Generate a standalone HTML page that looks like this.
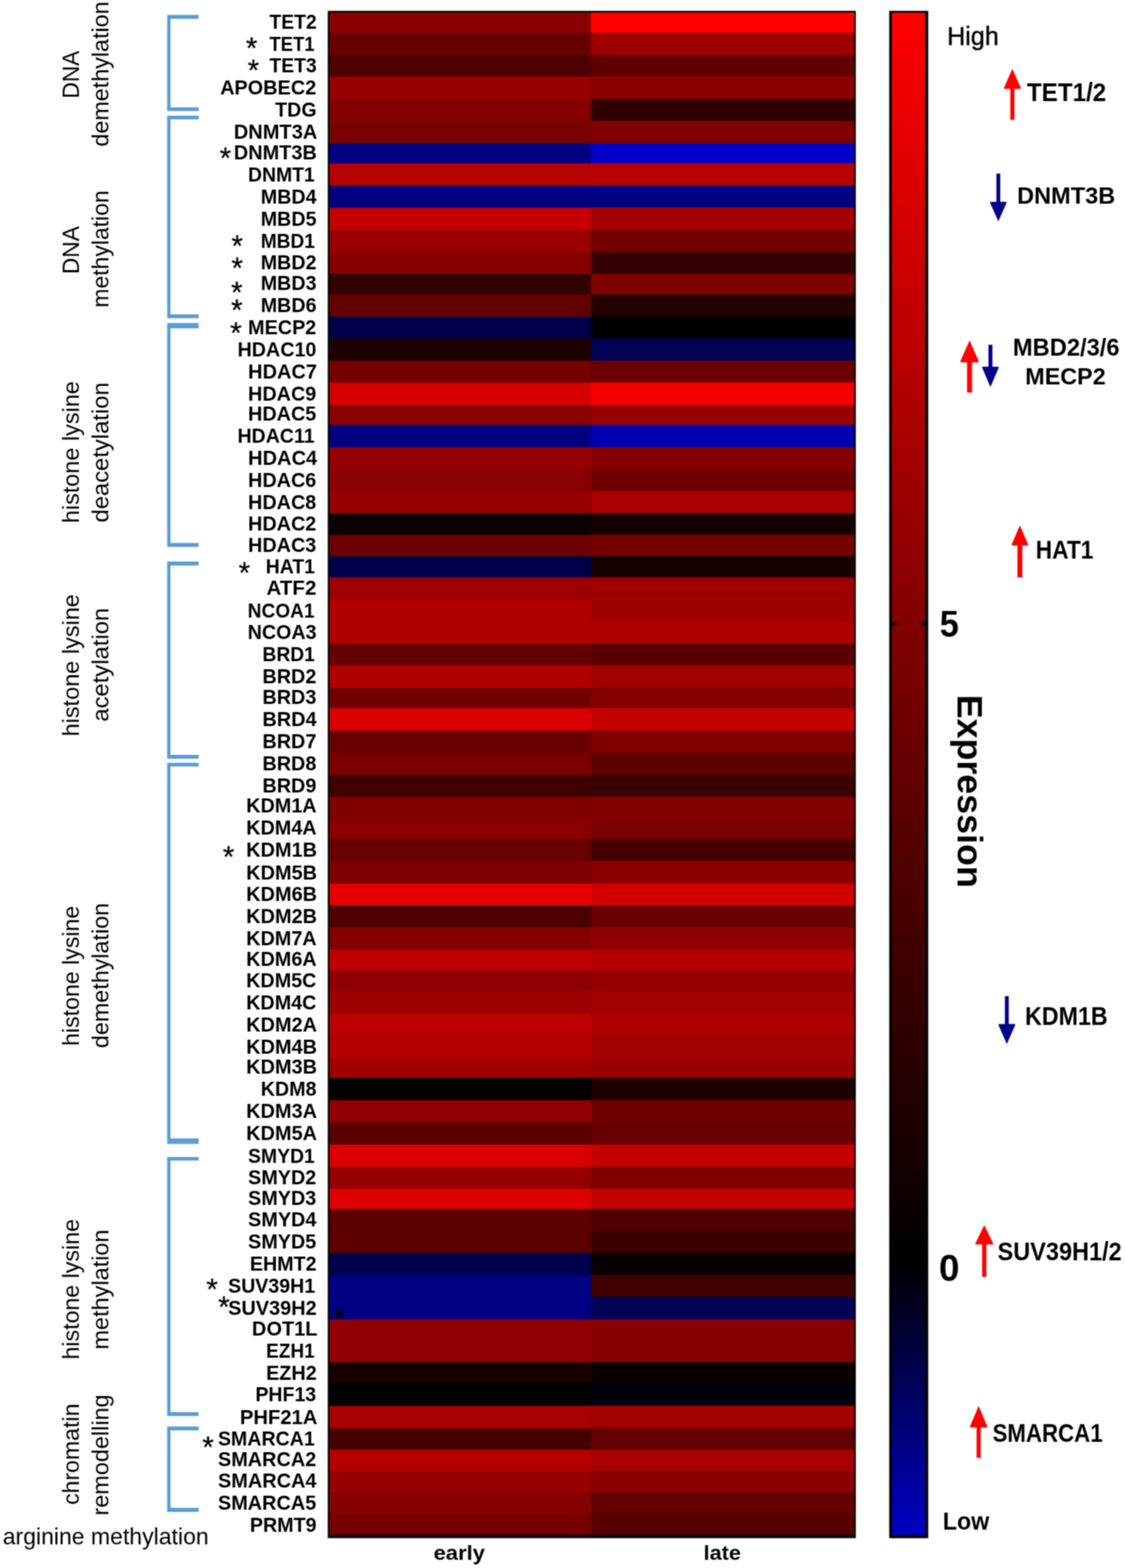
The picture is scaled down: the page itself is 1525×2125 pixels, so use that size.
<!DOCTYPE html>
<html lang="en">
<head>
<meta charset="utf-8">
<title>Epigenetic regulator expression heatmap</title>
<style>
html,body{margin:0;padding:0;background:#fff;}
body{width:1525px;height:2125px;overflow:hidden;position:relative;}
svg{position:absolute;left:0;top:0;display:block;}
text{font-family:"Liberation Sans",Arial,Helvetica,sans-serif;fill:#000;}
.g{font-size:27.4px;font-weight:bold;}
.c{font-size:31px;}
.s{font-size:40px;text-anchor:middle;stroke:#000;stroke-width:0.35px;}
</style>
</head>
<body>
<svg width="1525" height="2125" viewBox="0 0 1525 2125">
<defs>
<linearGradient id="cb" gradientUnits="userSpaceOnUse" x1="0" y1="17" x2="0" y2="2080">
<stop offset="0" stop-color="#ff0000"/>
<stop offset="0.8197" stop-color="#000000"/>
<stop offset="1" stop-color="#0000c4"/>
</linearGradient>
<filter id="soft" filterUnits="userSpaceOnUse" x="0" y="0" width="1525" height="2125" color-interpolation-filters="sRGB">
<feConvolveMatrix order="3" kernelMatrix="1 2 1 2 4 2 1 2 1" divisor="16" edgeMode="duplicate" preserveAlpha="false"/>
</filter>
</defs>
<g id="figure" filter="url(#soft)">
<rect x="0" y="0" width="1525" height="2125" fill="#ffffff"/>
<g id="heatmap">
<rect x="444.3" y="14.7" width="715.8" height="2069.8" fill="#000"/>
<rect x="446.8" y="17.00" width="711.0" height="29.10" fill="#8a0000"/>
<rect x="801.0" y="17.00" width="356.8" height="29.10" fill="#ff0000"/>
<rect x="446.8" y="44.60" width="711.0" height="31.80" fill="#660000"/>
<rect x="801.0" y="44.60" width="356.8" height="31.80" fill="#9c0000"/>
<rect x="446.8" y="74.90" width="711.0" height="30.50" fill="#4d0000"/>
<rect x="801.0" y="74.90" width="356.8" height="30.50" fill="#620000"/>
<rect x="446.8" y="103.90" width="711.0" height="31.80" fill="#990000"/>
<rect x="801.0" y="103.90" width="356.8" height="31.80" fill="#8a0000"/>
<rect x="446.8" y="134.20" width="711.0" height="31.20" fill="#850000"/>
<rect x="801.0" y="134.20" width="356.8" height="31.20" fill="#300000"/>
<rect x="446.8" y="163.90" width="711.0" height="31.80" fill="#7a0000"/>
<rect x="801.0" y="163.90" width="356.8" height="31.80" fill="#800000"/>
<rect x="446.8" y="194.20" width="711.0" height="28.70" fill="#000080"/>
<rect x="801.0" y="194.20" width="356.8" height="28.70" fill="#0000c8"/>
<rect x="446.8" y="221.40" width="711.0" height="31.50" fill="#b80000"/>
<rect x="801.0" y="221.40" width="356.8" height="31.50" fill="#b80000"/>
<rect x="446.8" y="251.40" width="711.0" height="31.50" fill="#000080"/>
<rect x="801.0" y="251.40" width="356.8" height="31.50" fill="#000080"/>
<rect x="446.8" y="281.40" width="711.0" height="31.90" fill="#c40000"/>
<rect x="801.0" y="281.40" width="356.8" height="31.90" fill="#a40000"/>
<rect x="446.8" y="311.80" width="711.0" height="31.40" fill="#990000"/>
<rect x="801.0" y="311.80" width="356.8" height="31.40" fill="#750000"/>
<rect x="446.8" y="341.70" width="711.0" height="30.80" fill="#870000"/>
<rect x="801.0" y="341.70" width="356.8" height="30.80" fill="#330000"/>
<rect x="446.8" y="371.00" width="711.0" height="29.50" fill="#330000"/>
<rect x="801.0" y="371.00" width="356.8" height="29.50" fill="#800000"/>
<rect x="446.8" y="399.00" width="711.0" height="31.50" fill="#620000"/>
<rect x="801.0" y="399.00" width="356.8" height="31.50" fill="#220000"/>
<rect x="446.8" y="429.00" width="711.0" height="31.10" fill="#00004a"/>
<rect x="801.0" y="429.00" width="356.8" height="31.10" fill="#000005"/>
<rect x="446.8" y="458.60" width="711.0" height="31.60" fill="#1f0000"/>
<rect x="801.0" y="458.60" width="356.8" height="31.60" fill="#000055"/>
<rect x="446.8" y="488.70" width="711.0" height="31.40" fill="#750000"/>
<rect x="801.0" y="488.70" width="356.8" height="31.40" fill="#6b0000"/>
<rect x="446.8" y="518.60" width="711.0" height="31.90" fill="#d60000"/>
<rect x="801.0" y="518.60" width="356.8" height="31.90" fill="#f50000"/>
<rect x="446.8" y="549.00" width="711.0" height="28.30" fill="#8a0000"/>
<rect x="801.0" y="549.00" width="356.8" height="28.30" fill="#960000"/>
<rect x="446.8" y="575.80" width="711.0" height="31.80" fill="#000080"/>
<rect x="801.0" y="575.80" width="356.8" height="31.80" fill="#0000b0"/>
<rect x="446.8" y="606.10" width="711.0" height="31.20" fill="#940000"/>
<rect x="801.0" y="606.10" width="356.8" height="31.20" fill="#870000"/>
<rect x="446.8" y="635.80" width="711.0" height="31.10" fill="#8a0000"/>
<rect x="801.0" y="635.80" width="356.8" height="31.10" fill="#700000"/>
<rect x="446.8" y="665.40" width="711.0" height="31.90" fill="#940000"/>
<rect x="801.0" y="665.40" width="356.8" height="31.90" fill="#a80000"/>
<rect x="446.8" y="695.80" width="711.0" height="30.40" fill="#0d0000"/>
<rect x="801.0" y="695.80" width="356.8" height="30.40" fill="#170000"/>
<rect x="446.8" y="724.70" width="711.0" height="30.50" fill="#6b0000"/>
<rect x="801.0" y="724.70" width="356.8" height="30.50" fill="#750000"/>
<rect x="446.8" y="753.70" width="711.0" height="30.40" fill="#00004a"/>
<rect x="801.0" y="753.70" width="356.8" height="30.40" fill="#170000"/>
<rect x="446.8" y="782.60" width="711.0" height="31.10" fill="#9e0000"/>
<rect x="801.0" y="782.60" width="356.8" height="31.10" fill="#9e0000"/>
<rect x="446.8" y="812.20" width="711.0" height="31.90" fill="#b00000"/>
<rect x="801.0" y="812.20" width="356.8" height="31.90" fill="#9e0000"/>
<rect x="446.8" y="842.60" width="711.0" height="31.10" fill="#b00000"/>
<rect x="801.0" y="842.60" width="356.8" height="31.10" fill="#b00000"/>
<rect x="446.8" y="872.20" width="711.0" height="31.10" fill="#660000"/>
<rect x="801.0" y="872.20" width="356.8" height="31.10" fill="#5a0000"/>
<rect x="446.8" y="901.80" width="711.0" height="31.80" fill="#b00000"/>
<rect x="801.0" y="901.80" width="356.8" height="31.80" fill="#a30000"/>
<rect x="446.8" y="932.10" width="711.0" height="29.10" fill="#700000"/>
<rect x="801.0" y="932.10" width="356.8" height="29.10" fill="#850000"/>
<rect x="446.8" y="959.70" width="711.0" height="31.80" fill="#db0000"/>
<rect x="801.0" y="959.70" width="356.8" height="31.80" fill="#c40000"/>
<rect x="446.8" y="990.00" width="711.0" height="31.20" fill="#690000"/>
<rect x="801.0" y="990.00" width="356.8" height="31.20" fill="#800000"/>
<rect x="446.8" y="1019.70" width="711.0" height="31.80" fill="#7a0000"/>
<rect x="801.0" y="1019.70" width="356.8" height="31.80" fill="#5e0000"/>
<rect x="446.8" y="1050.00" width="711.0" height="31.20" fill="#400000"/>
<rect x="801.0" y="1050.00" width="356.8" height="31.20" fill="#380000"/>
<rect x="446.8" y="1079.70" width="711.0" height="31.80" fill="#800000"/>
<rect x="801.0" y="1079.70" width="356.8" height="31.80" fill="#820000"/>
<rect x="446.8" y="1110.00" width="711.0" height="28.30" fill="#8a0000"/>
<rect x="801.0" y="1110.00" width="356.8" height="28.30" fill="#780000"/>
<rect x="446.8" y="1136.80" width="711.0" height="31.50" fill="#690000"/>
<rect x="801.0" y="1136.80" width="356.8" height="31.50" fill="#450000"/>
<rect x="446.8" y="1166.80" width="711.0" height="32.20" fill="#7d0000"/>
<rect x="801.0" y="1166.80" width="356.8" height="32.20" fill="#8a0000"/>
<rect x="446.8" y="1197.50" width="711.0" height="31.00" fill="#e60000"/>
<rect x="801.0" y="1197.50" width="356.8" height="31.00" fill="#d10000"/>
<rect x="446.8" y="1227.00" width="711.0" height="31.30" fill="#4d0000"/>
<rect x="801.0" y="1227.00" width="356.8" height="31.30" fill="#690000"/>
<rect x="446.8" y="1256.80" width="711.0" height="31.70" fill="#850000"/>
<rect x="801.0" y="1256.80" width="356.8" height="31.70" fill="#910000"/>
<rect x="446.8" y="1287.00" width="711.0" height="29.20" fill="#bd0000"/>
<rect x="801.0" y="1287.00" width="356.8" height="29.20" fill="#b50000"/>
<rect x="446.8" y="1314.70" width="711.0" height="30.40" fill="#8f0000"/>
<rect x="801.0" y="1314.70" width="356.8" height="30.40" fill="#960000"/>
<rect x="446.8" y="1343.60" width="711.0" height="31.60" fill="#9e0000"/>
<rect x="801.0" y="1343.60" width="356.8" height="31.60" fill="#a30000"/>
<rect x="446.8" y="1373.70" width="711.0" height="31.70" fill="#ba0000"/>
<rect x="801.0" y="1373.70" width="356.8" height="31.70" fill="#ab0000"/>
<rect x="446.8" y="1403.90" width="711.0" height="31.60" fill="#b50000"/>
<rect x="801.0" y="1403.90" width="356.8" height="31.60" fill="#a30000"/>
<rect x="446.8" y="1434.00" width="711.0" height="28.20" fill="#a00000"/>
<rect x="801.0" y="1434.00" width="356.8" height="28.20" fill="#990000"/>
<rect x="446.8" y="1460.70" width="711.0" height="31.80" fill="#000000"/>
<rect x="801.0" y="1460.70" width="356.8" height="31.80" fill="#1f0000"/>
<rect x="446.8" y="1491.00" width="711.0" height="31.10" fill="#910000"/>
<rect x="801.0" y="1491.00" width="356.8" height="31.10" fill="#700000"/>
<rect x="446.8" y="1520.60" width="711.0" height="31.90" fill="#590000"/>
<rect x="801.0" y="1520.60" width="356.8" height="31.90" fill="#690000"/>
<rect x="446.8" y="1551.00" width="711.0" height="31.90" fill="#d90000"/>
<rect x="801.0" y="1551.00" width="356.8" height="31.90" fill="#c40000"/>
<rect x="446.8" y="1581.40" width="711.0" height="31.10" fill="#940000"/>
<rect x="801.0" y="1581.40" width="356.8" height="31.10" fill="#800000"/>
<rect x="446.8" y="1611.00" width="711.0" height="29.00" fill="#de0000"/>
<rect x="801.0" y="1611.00" width="356.8" height="29.00" fill="#c40000"/>
<rect x="446.8" y="1638.50" width="711.0" height="31.20" fill="#5c0000"/>
<rect x="801.0" y="1638.50" width="356.8" height="31.20" fill="#4f0000"/>
<rect x="446.8" y="1668.20" width="711.0" height="31.10" fill="#5c0000"/>
<rect x="801.0" y="1668.20" width="356.8" height="31.10" fill="#3a0000"/>
<rect x="446.8" y="1697.80" width="711.0" height="31.20" fill="#00004a"/>
<rect x="801.0" y="1697.80" width="356.8" height="31.20" fill="#080000"/>
<rect x="446.8" y="1727.50" width="711.0" height="31.80" fill="#000082"/>
<rect x="801.0" y="1727.50" width="356.8" height="31.80" fill="#400000"/>
<rect x="446.8" y="1757.80" width="711.0" height="31.80" fill="#000082"/>
<rect x="801.0" y="1757.80" width="356.8" height="31.80" fill="#000057"/>
<rect x="446.8" y="1788.10" width="711.0" height="29.20" fill="#910000"/>
<rect x="801.0" y="1788.10" width="356.8" height="29.20" fill="#870000"/>
<rect x="446.8" y="1815.80" width="711.0" height="31.70" fill="#910000"/>
<rect x="801.0" y="1815.80" width="356.8" height="31.70" fill="#870000"/>
<rect x="446.8" y="1846.00" width="711.0" height="31.10" fill="#170000"/>
<rect x="801.0" y="1846.00" width="356.8" height="31.10" fill="#0a0000"/>
<rect x="446.8" y="1875.60" width="711.0" height="31.20" fill="#000000"/>
<rect x="801.0" y="1875.60" width="356.8" height="31.20" fill="#00000d"/>
<rect x="446.8" y="1905.30" width="711.0" height="31.80" fill="#a60000"/>
<rect x="801.0" y="1905.30" width="356.8" height="31.80" fill="#a30000"/>
<rect x="446.8" y="1935.60" width="711.0" height="30.50" fill="#450000"/>
<rect x="801.0" y="1935.60" width="356.8" height="30.50" fill="#630000"/>
<rect x="446.8" y="1964.60" width="711.0" height="30.00" fill="#b50000"/>
<rect x="801.0" y="1964.60" width="356.8" height="30.00" fill="#a60000"/>
<rect x="446.8" y="1993.10" width="711.0" height="30.80" fill="#990000"/>
<rect x="801.0" y="1993.10" width="356.8" height="30.80" fill="#8a0000"/>
<rect x="446.8" y="2022.40" width="711.0" height="30.90" fill="#870000"/>
<rect x="801.0" y="2022.40" width="356.8" height="30.90" fill="#630000"/>
<rect x="446.8" y="2051.80" width="711.0" height="28.00" fill="#750000"/>
<rect x="801.0" y="2051.80" width="356.8" height="28.00" fill="#570000"/>
</g>
<g id="colorbar">
<rect x="1205.4" y="14.7" width="52.9" height="2069.9" fill="#000"/>
<rect x="1208.9" y="17.2" width="45.2" height="2062.8" fill="url(#cb)"/>
<rect x="1208" y="843.3" width="7.2" height="4.1" fill="#000"/>
<rect x="1247.8" y="843.3" width="7" height="4.1" fill="#000"/>
</g>
<g id="brackets" fill="#5b9bd5">
<path d="M226.6 20.3H269.3V25.6H231.1V145.6H269.3V150.5H226.6Z"/>
<path d="M226.6 156.8H269.3V161.7H231.1V425.9H269.3V431.2H226.6Z"/>
<path d="M226.6 437.7H269.3V445.0H231.1V735.7H269.3V741.2H226.6Z"/>
<path d="M226.6 760.9H269.3V766.6H231.1V1023.0H269.3V1028.3H226.6Z"/>
<path d="M226.6 1033.8H269.3V1038.7H231.1V1542.7H269.3V1550.2H226.6Z"/>
<path d="M226.6 1567.9H269.3V1572.8H231.1V1913.7H269.3V1919.0H226.6Z"/>
<path d="M226.6 1933.3H269.3V1938.6H231.1V2043.4H269.3V2049.0H226.6Z"/>
</g>
<g id="genes">
<text class="g" x="365.3" y="39" textLength="64.0" lengthAdjust="spacingAndGlyphs">TET2</text>
<text class="g" x="365.3" y="69" textLength="61.1" lengthAdjust="spacingAndGlyphs">TET1</text>
<text class="g" x="365.3" y="98" textLength="64.0" lengthAdjust="spacingAndGlyphs">TET3</text>
<text class="g" x="298.4" y="128" textLength="130.4" lengthAdjust="spacingAndGlyphs">APOBEC2</text>
<text class="g" x="373.1" y="158" textLength="56.1" lengthAdjust="spacingAndGlyphs">TDG</text>
<text class="g" x="317.0" y="188" textLength="113.1" lengthAdjust="spacingAndGlyphs">DNMT3A</text>
<text class="g" x="317.0" y="216" textLength="112.5" lengthAdjust="spacingAndGlyphs">DNMT3B</text>
<text class="g" x="336.3" y="246" textLength="90.4" lengthAdjust="spacingAndGlyphs">DNMT1</text>
<text class="g" x="353.4" y="276" textLength="75.8" lengthAdjust="spacingAndGlyphs">MBD4</text>
<text class="g" x="353.4" y="306" textLength="75.6" lengthAdjust="spacingAndGlyphs">MBD5</text>
<text class="g" x="353.4" y="336" textLength="73.7" lengthAdjust="spacingAndGlyphs">MBD1</text>
<text class="g" x="353.4" y="365" textLength="75.6" lengthAdjust="spacingAndGlyphs">MBD2</text>
<text class="g" x="353.4" y="393" textLength="75.6" lengthAdjust="spacingAndGlyphs">MBD3</text>
<text class="g" x="353.4" y="423" textLength="75.6" lengthAdjust="spacingAndGlyphs">MBD6</text>
<text class="g" x="336.3" y="453" textLength="92.4" lengthAdjust="spacingAndGlyphs">MECP2</text>
<text class="g" x="322.0" y="483" textLength="107.0" lengthAdjust="spacingAndGlyphs">HDAC10</text>
<text class="g" x="336.3" y="513" textLength="93.4" lengthAdjust="spacingAndGlyphs">HDAC7</text>
<text class="g" x="336.3" y="543" textLength="92.4" lengthAdjust="spacingAndGlyphs">HDAC9</text>
<text class="g" x="336.3" y="570" textLength="92.4" lengthAdjust="spacingAndGlyphs">HDAC5</text>
<text class="g" x="322.0" y="600" textLength="104.4" lengthAdjust="spacingAndGlyphs">HDAC11</text>
<text class="g" x="336.3" y="630" textLength="93.6" lengthAdjust="spacingAndGlyphs">HDAC4</text>
<text class="g" x="336.3" y="660" textLength="92.4" lengthAdjust="spacingAndGlyphs">HDAC6</text>
<text class="g" x="336.3" y="690" textLength="92.4" lengthAdjust="spacingAndGlyphs">HDAC8</text>
<text class="g" x="336.3" y="719" textLength="92.4" lengthAdjust="spacingAndGlyphs">HDAC2</text>
<text class="g" x="336.3" y="748" textLength="92.4" lengthAdjust="spacingAndGlyphs">HDAC3</text>
<text class="g" x="360.3" y="777" textLength="66.5" lengthAdjust="spacingAndGlyphs">HAT1</text>
<text class="g" x="361.3" y="806" textLength="67.6" lengthAdjust="spacingAndGlyphs">ATF2</text>
<text class="g" x="335.8" y="837" textLength="90.5" lengthAdjust="spacingAndGlyphs">NCOA1</text>
<text class="g" x="335.7" y="866" textLength="93.5" lengthAdjust="spacingAndGlyphs">NCOA3</text>
<text class="g" x="355.8" y="896" textLength="71.1" lengthAdjust="spacingAndGlyphs">BRD1</text>
<text class="g" x="355.8" y="926" textLength="73.1" lengthAdjust="spacingAndGlyphs">BRD2</text>
<text class="g" x="355.8" y="954" textLength="73.1" lengthAdjust="spacingAndGlyphs">BRD3</text>
<text class="g" x="355.8" y="984" textLength="73.4" lengthAdjust="spacingAndGlyphs">BRD4</text>
<text class="g" x="355.8" y="1014" textLength="73.1" lengthAdjust="spacingAndGlyphs">BRD7</text>
<text class="g" x="355.8" y="1044" textLength="73.1" lengthAdjust="spacingAndGlyphs">BRD8</text>
<text class="g" x="355.8" y="1074" textLength="73.1" lengthAdjust="spacingAndGlyphs">BRD9</text>
<text class="g" x="333.8" y="1101" textLength="95.4" lengthAdjust="spacingAndGlyphs">KDM1A</text>
<text class="g" x="333.8" y="1131" textLength="95.4" lengthAdjust="spacingAndGlyphs">KDM4A</text>
<text class="g" x="333.8" y="1161" textLength="96.0" lengthAdjust="spacingAndGlyphs">KDM1B</text>
<text class="g" x="333.8" y="1192" textLength="96.0" lengthAdjust="spacingAndGlyphs">KDM5B</text>
<text class="g" x="333.8" y="1221" textLength="96.0" lengthAdjust="spacingAndGlyphs">KDM6B</text>
<text class="g" x="333.8" y="1251" textLength="96.0" lengthAdjust="spacingAndGlyphs">KDM2B</text>
<text class="g" x="333.8" y="1281" textLength="95.4" lengthAdjust="spacingAndGlyphs">KDM7A</text>
<text class="g" x="333.8" y="1309" textLength="95.4" lengthAdjust="spacingAndGlyphs">KDM6A</text>
<text class="g" x="333.8" y="1338" textLength="95.0" lengthAdjust="spacingAndGlyphs">KDM5C</text>
<text class="g" x="333.8" y="1368" textLength="95.0" lengthAdjust="spacingAndGlyphs">KDM4C</text>
<text class="g" x="333.8" y="1398" textLength="95.8" lengthAdjust="spacingAndGlyphs">KDM2A</text>
<text class="g" x="333.8" y="1428" textLength="96.0" lengthAdjust="spacingAndGlyphs">KDM4B</text>
<text class="g" x="333.8" y="1455" textLength="96.0" lengthAdjust="spacingAndGlyphs">KDM3B</text>
<text class="g" x="353.4" y="1485" textLength="75.6" lengthAdjust="spacingAndGlyphs">KDM8</text>
<text class="g" x="333.8" y="1515" textLength="95.8" lengthAdjust="spacingAndGlyphs">KDM3A</text>
<text class="g" x="333.8" y="1545" textLength="95.8" lengthAdjust="spacingAndGlyphs">KDM5A</text>
<text class="g" x="336.3" y="1576" textLength="90.4" lengthAdjust="spacingAndGlyphs">SMYD1</text>
<text class="g" x="336.3" y="1605" textLength="92.4" lengthAdjust="spacingAndGlyphs">SMYD2</text>
<text class="g" x="336.3" y="1633" textLength="92.4" lengthAdjust="spacingAndGlyphs">SMYD3</text>
<text class="g" x="336.3" y="1662" textLength="92.7" lengthAdjust="spacingAndGlyphs">SMYD4</text>
<text class="g" x="336.3" y="1692" textLength="92.4" lengthAdjust="spacingAndGlyphs">SMYD5</text>
<text class="g" x="338.7" y="1722" textLength="90.5" lengthAdjust="spacingAndGlyphs">EHMT2</text>
<text class="g" x="309.2" y="1752" textLength="118.0" lengthAdjust="spacingAndGlyphs">SUV39H1</text>
<text class="g" x="309.2" y="1782" textLength="120.0" lengthAdjust="spacingAndGlyphs">SUV39H2</text>
<text class="g" x="341.6" y="1810" textLength="88.8" lengthAdjust="spacingAndGlyphs">DOT1L</text>
<text class="g" x="360.8" y="1840" textLength="65.7" lengthAdjust="spacingAndGlyphs">EZH1</text>
<text class="g" x="360.7" y="1870" textLength="68.7" lengthAdjust="spacingAndGlyphs">EZH2</text>
<text class="g" x="346.2" y="1899" textLength="82.4" lengthAdjust="spacingAndGlyphs">PHF13</text>
<text class="g" x="325.3" y="1930" textLength="105.1" lengthAdjust="spacingAndGlyphs">PHF21A</text>
<text class="g" x="295.4" y="1959" textLength="131.4" lengthAdjust="spacingAndGlyphs">SMARCA1</text>
<text class="g" x="295.4" y="1987" textLength="133.4" lengthAdjust="spacingAndGlyphs">SMARCA2</text>
<text class="g" x="295.4" y="2016" textLength="133.6" lengthAdjust="spacingAndGlyphs">SMARCA4</text>
<text class="g" x="295.4" y="2046" textLength="133.4" lengthAdjust="spacingAndGlyphs">SMARCA5</text>
<text class="g" x="338.7" y="2076" textLength="90.5" lengthAdjust="spacingAndGlyphs">PRMT9</text>
</g>
<g id="stars">
<text class="s" x="341.0" y="79">*</text>
<text class="s" x="343.5" y="109">*</text>
<text class="s" x="305.5" y="228">*</text>
<text class="s" x="321.5" y="347">*</text>
<text class="s" x="321.5" y="377">*</text>
<text class="s" x="321.0" y="410">*</text>
<text class="s" x="321.0" y="434">*</text>
<text class="s" x="319.7" y="465">*</text>
<text class="s" x="331.4" y="790">*</text>
<text class="s" x="309.7" y="1175">*</text>
<text class="s" x="287.5" y="1761">*</text>
<text class="s" x="303.5" y="1785">*</text>
<text class="s" x="459.2" y="1801">*</text>
<text class="s" x="282.0" y="1975">*</text>
</g>
<g id="categories">
<text class="c" transform="translate(106.5 133.5) rotate(-90)" textLength="64.7" lengthAdjust="spacingAndGlyphs">DNA</text>
<text class="c" transform="translate(147.2 198.7) rotate(-90)" textLength="196.8" lengthAdjust="spacingAndGlyphs">demethylation</text>
<text class="c" transform="translate(106.5 371.5) rotate(-90)" textLength="64.9" lengthAdjust="spacingAndGlyphs">DNA</text>
<text class="c" transform="translate(147.2 417.0) rotate(-90)" textLength="159.1" lengthAdjust="spacingAndGlyphs">methylation</text>
<text class="c" transform="translate(107.3 709.1) rotate(-90)" textLength="192.6" lengthAdjust="spacingAndGlyphs">histone lysine</text>
<text class="c" transform="translate(147.2 708.0) rotate(-90)" textLength="189.8" lengthAdjust="spacingAndGlyphs">deacetylation</text>
<text class="c" transform="translate(107.3 998.1) rotate(-90)" textLength="192.9" lengthAdjust="spacingAndGlyphs">histone lysine</text>
<text class="c" transform="translate(147.2 978.0) rotate(-90)" textLength="154.3" lengthAdjust="spacingAndGlyphs">acetylation</text>
<text class="c" transform="translate(106.8 1417.5) rotate(-90)" textLength="190.0" lengthAdjust="spacingAndGlyphs">histone lysine</text>
<text class="c" transform="translate(147.2 1420.4) rotate(-90)" textLength="196.7" lengthAdjust="spacingAndGlyphs">demethylation</text>
<text class="c" transform="translate(106.8 1842.5) rotate(-90)" textLength="190.4" lengthAdjust="spacingAndGlyphs">histone lysine</text>
<text class="c" transform="translate(147.2 1829.1) rotate(-90)" textLength="162.9" lengthAdjust="spacingAndGlyphs">methylation</text>
<text class="c" transform="translate(106.8 2039.6) rotate(-90)" textLength="137.4" lengthAdjust="spacingAndGlyphs">chromatin</text>
<text class="c" transform="translate(147.2 2053.9) rotate(-90)" textLength="164.2" lengthAdjust="spacingAndGlyphs">remodelling</text>
</g>
<g id="labels">
<text x="1392.0" y="137" style="font-size:34.8px;font-weight:bold;" textLength="107.5" lengthAdjust="spacingAndGlyphs">TET1/2</text>
<text x="1378.8" y="276" style="font-size:31.7px;font-weight:bold;" textLength="132.9" lengthAdjust="spacingAndGlyphs">DNMT3B</text>
<text x="1372.9" y="482" style="font-size:33.5px;font-weight:bold;" textLength="144.8" lengthAdjust="spacingAndGlyphs">MBD2/3/6</text>
<text x="1389.8" y="521" style="font-size:31.7px;font-weight:bold;" textLength="109.0" lengthAdjust="spacingAndGlyphs">MECP2</text>
<text x="1404.1" y="757" style="font-size:35.0px;font-weight:bold;" textLength="77.9" lengthAdjust="spacingAndGlyphs">HAT1</text>
<text x="1389.6" y="1389" style="font-size:35.0px;font-weight:bold;" textLength="112.0" lengthAdjust="spacingAndGlyphs">KDM1B</text>
<text x="1352.3" y="1708" style="font-size:34.3px;font-weight:bold;" textLength="168.2" lengthAdjust="spacingAndGlyphs">SUV39H1/2</text>
<text x="1345.5" y="1954" style="font-size:34.7px;font-weight:bold;" textLength="149.2" lengthAdjust="spacingAndGlyphs">SMARCA1</text>
<text x="1283.9" y="61" style="font-size:35.1px;font-weight:normal;stroke:#000;stroke-width:0.5px;" textLength="70.1" lengthAdjust="spacingAndGlyphs">High</text>
<text x="1278.1" y="2073" style="font-size:34.1px;font-weight:bold;" textLength="63.0" lengthAdjust="spacingAndGlyphs">Low</text>
<text x="1273.8" y="863" style="font-size:49.6px;font-weight:bold;" textLength="26.0" lengthAdjust="spacingAndGlyphs">5</text>
<text x="1272.7" y="1736" style="font-size:49.8px;font-weight:bold;" textLength="27.9" lengthAdjust="spacingAndGlyphs">0</text>
<text x="587.8" y="2114" style="font-size:28px;font-weight:bold;" textLength="69.6" lengthAdjust="spacingAndGlyphs">early</text>
<text x="953.8" y="2114" style="font-size:28px;font-weight:bold;" textLength="50.4" lengthAdjust="spacingAndGlyphs">late</text>
<text x="3.7" y="2093" style="font-size:30.5px;font-weight:normal;" textLength="279.2" lengthAdjust="spacingAndGlyphs">arginine methylation</text>
<text transform="translate(1297.6 941.4) rotate(90)" style="font-size:48px;font-weight:bold" textLength="261.7" lengthAdjust="spacingAndGlyphs">Expression</text>
</g>
<g id="arrows">
<path fill="#ff0000" d="M1372.3 93.2L1383.6 118.8V120.5H1375.1V162.4H1369.5V120.5H1361.0V118.8Z"/>
<path fill="#00008b" d="M1353.3 300.0L1364.3 275.2V273.5H1355.9V235.2H1350.7V273.5H1342.3V275.2Z"/>
<path fill="#ff0000" d="M1314.3 461.2L1326.6 489.3V491.0H1317.7V532.1H1310.9V491.0H1302.0V489.3Z"/>
<path fill="#00008b" d="M1342.6 524.4L1353.7 498.6V496.9H1345.3V467.3H1339.9V496.9H1331.5V498.6Z"/>
<path fill="#ff0000" d="M1382.5 712.1L1393.5 737.6V739.3H1385.8V782.5H1379.2V739.3H1371.5V737.6Z"/>
<path fill="#00008b" d="M1364.8 1415.0L1376.0 1389.4V1387.7H1367.4V1350.0H1362.2V1387.7H1353.6V1389.4Z"/>
<path fill="#ff0000" d="M1334.2 1660.3L1346.2 1684.9V1686.6H1337.1V1730.4H1331.3V1686.6H1322.2V1684.9Z"/>
<path fill="#ff0000" d="M1326.6 1905.3L1338.2 1932.9V1934.6H1329.4V1975.8H1323.8V1934.6H1315.0V1932.9Z"/>
</g>
</g>
</svg>
</body>
</html>
